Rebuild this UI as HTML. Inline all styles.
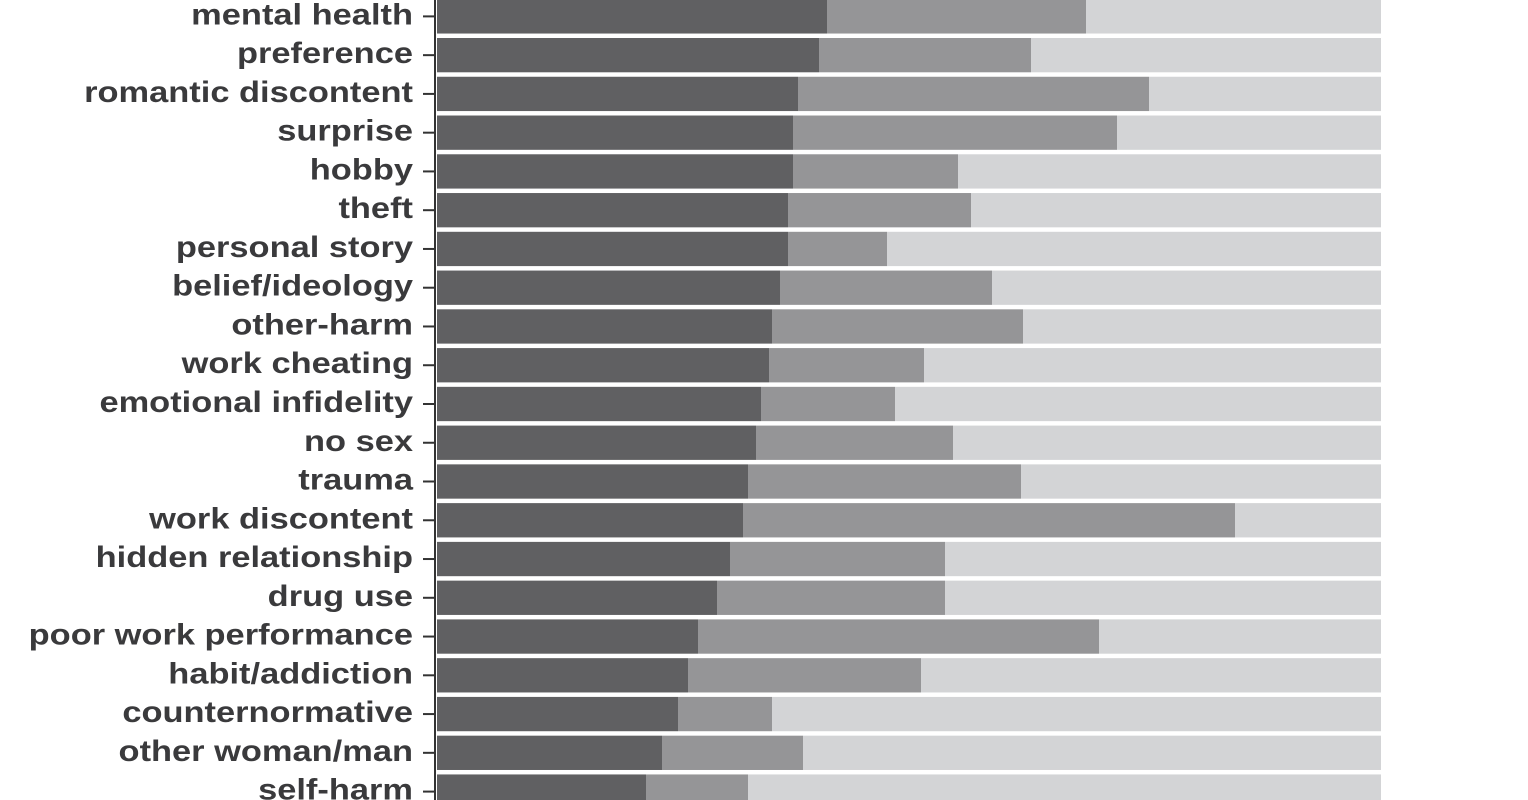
<!DOCTYPE html>
<html><head><meta charset="utf-8"><style>
html,body{margin:0;padding:0;background:#fff;}
svg{display:block}
text{font-family:"Liberation Sans",Arial,sans-serif;font-size:30px;font-weight:bold;fill:#3a3a3c;}
</style></head><body>
<svg width="1528" height="800" xmlns="http://www.w3.org/2000/svg" id="s"></svg>
<script>
const rows=[["mental health",827,1086],["preference",819,1031],["romantic discontent",798,1149],["surprise",793,1117],["hobby",793,958],["theft",788,971],["personal story",788,887],["belief/ideology",780,992],["other-harm",772,1023],["work cheating",769,924],["emotional infidelity",761,895],["no sex",756,953],["trauma",748,1021],["work discontent",743,1235],["hidden relationship",730,945],["drug use",717,945],["poor work performance",698,1099],["habit/addiction",688,921],["counternormative",678,772],["other woman/man",662,803],["self-harm",646,748]];
let h='<line x1="435" y1="0" x2="435" y2="800" stroke="#333" stroke-width="2"/>';
const p=38.76,x0=437,x1=1381;
rows.forEach((r,i)=>{const t=-0.76+i*p,hh=34.3,c=t+hh/2;
h+=`<rect x="${x0}" y="${t}" width="${r[1]-x0}" height="${hh}" fill="#606062"/>`;
h+=`<rect x="${r[1]}" y="${t}" width="${r[2]-r[1]}" height="${hh}" fill="#959597"/>`;
h+=`<rect x="${r[2]}" y="${t}" width="${x1-r[2]}" height="${hh}" fill="#d3d4d6"/>`;
h+=`<line x1="423" y1="${c}" x2="435" y2="${c}" stroke="#333" stroke-width="2"/>`;
h+=`<text x="413" y="${c+8}" text-anchor="end">${r[0]}</text>`;});
const s=document.getElementById('s');s.innerHTML=h;
s.querySelectorAll('text').forEach(t=>{const w=t.getComputedTextLength();t.setAttribute('textLength',w*1.147);t.setAttribute('lengthAdjust','spacingAndGlyphs');});
</script>
</body></html>
